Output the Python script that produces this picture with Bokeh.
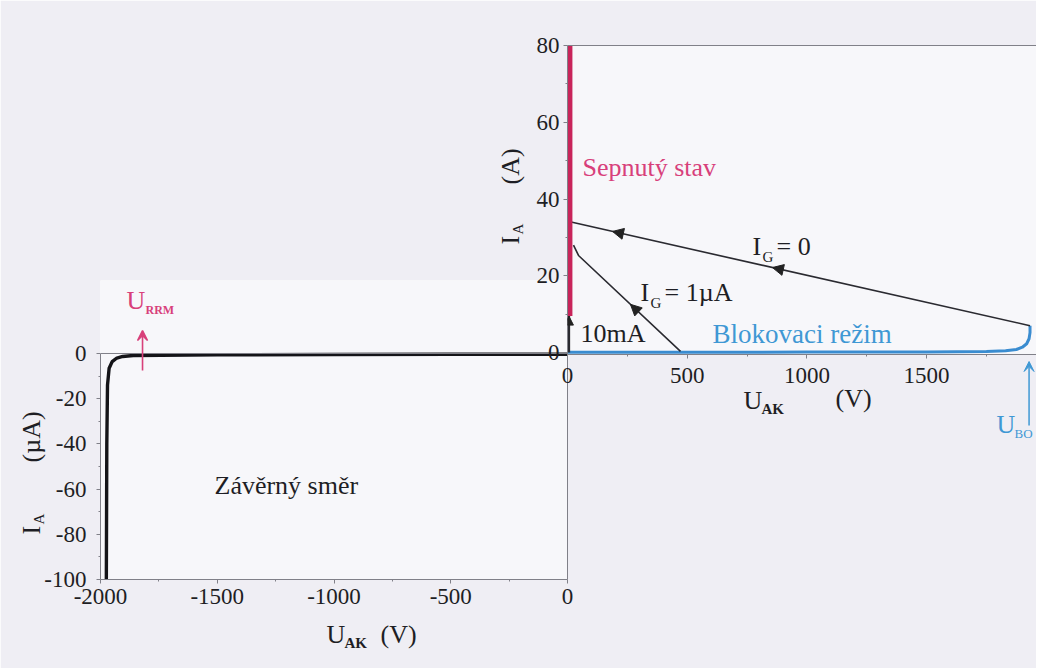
import math
import numpy as np
from bokeh.plotting import figure
from bokeh.layouts import column
from bokeh.models import (LinearAxis, FixedTicker, Range1d, Label, Arrow,
                          NormalHead, VeeHead, Span, GridBox, PrintfTickFormatter)
from bokeh.embed import file_html
from bokeh.resources import INLINE

# ---------------- data ----------------
# reverse direction (lower-left panel): U_AK [V], I_A [uA]
rev_u = [0, -500, -1000, -1500, -1860, -1905, -1930, -1950, -1963, -1970, -1973, -1975]
rev_i = [-0.3, -0.35, -0.45, -0.6, -0.9, -1.3, -2.0, -3.6, -6.5, -14, -40, -100]
lower_x_ticks = [-2000, -1500, -1000, -500, 0]
lower_x_minor = [-1750, -1250, -750, -250]
lower_y_ticks = [0, -20, -40, -60, -80, -100]
lower_y_minor = [-10, -30, -50, -70, -90]

# forward blocking (blue), U_AK [V], I_A [A]
blk_u = [0, 500, 1000, 1500, 1750, 1830, 1875, 1900, 1918, 1928, 1932, 1932]
blk_i = [0.1, 0.1, 0.12, 0.15, 0.25, 0.45, 0.8, 1.4, 2.3, 3.6, 5.2, 7.0]
# switching line I_G = 0
ig0_u = [15, 1932]
ig0_i = [34, 7.0]
ig0_arrow_u = [188, 856]
# switching line I_G = 1 uA
ig1_u = [472, 46, 25]
ig1_i = [0.3, 25.3, 28]
ig1_arrow_u = [263]
# on state
on_u = [8, 8]
on_i = [9.5, 80]
# 10 mA segment
ma_u = [6, 6]
ma_i = [0, 9.5]
upper_x_ticks = [0, 500, 1000, 1500]
upper_x_minor = [250, 750, 1250, 1750]
upper_y_ticks = [0, 20, 40, 60, 80]
upper_y_minor = [10, 30, 50, 70]

u_rrm = -1820
u_bo = 1928

# ---------------- styling ----------------
W, H = 1036, 668
FONT = "Liberation Serif"
TXT = "#1e1e24"
AXC = "#808088"
RED = "#c8245a"
PINK = "#d8407a"
BLUE = "#3f98d4"
BLUE_LINE = "#3a8cd0"
BORDER = "#efeef4"
BG = "#f7f7fa"
TICK = "23px"
BIG = "26px"
SUB = "15px"

# page-pixel geometry of the two panel frames
A_X0, A_X1, A_Y0, A_Y1 = 100, 567, 280, 579
A_XR, A_YR = (-2000, 0), (32.3, -100)
B_X0, B_X1, B_Y0, B_Y1 = 567, W, 45, 354
B_XR, B_YR = (0, (W - 567) / 0.2394), (80, -0.5)


def ax_(px):
    return A_XR[0] + (px - A_X0) * (A_XR[1] - A_XR[0]) / (A_X1 - A_X0)


def ay_(py):
    return A_YR[0] + (py - A_Y0) * (A_YR[1] - A_YR[0]) / (A_Y1 - A_Y0)


def bx_(px):
    return B_XR[0] + (px - B_X0) * (B_XR[1] - B_XR[0]) / (B_X1 - B_X0)


def by_(py):
    return B_YR[0] + (py - B_Y0) * (B_YR[1] - B_YR[0]) / (B_Y1 - B_Y0)


def b_px(u):
    return B_X0 + (u - B_XR[0]) * (B_X1 - B_X0) / (B_XR[1] - B_XR[0])


def style_axis(a, size=TICK):
    a.axis_line_color = AXC
    a.axis_line_width = 1
    a.major_tick_line_color = AXC
    a.minor_tick_line_color = AXC
    a.major_tick_in = 0
    a.major_tick_out = 4
    a.minor_tick_in = 0
    a.minor_tick_out = 2
    a.major_label_text_font = FONT
    a.major_label_text_font_size = size
    a.major_label_text_color = TXT
    a.formatter = PrintfTickFormatter(format="%d")


def lab(p, x, y, text, size=BIG, color=TXT, align="left", angle=0.0, style="normal"):
    p.add_layout(Label(x=x, y=y, text=text, text_font=FONT, text_font_size=size,
                       text_color=color, text_align=align, text_baseline="middle",
                       angle=angle, text_font_style=style))


def make_fig(xr, yr, x0, x1, y0, y1):
    return figure(frame_width=x1 - x0, frame_height=y1 - y0,
                  x_range=Range1d(*xr), y_range=Range1d(yr[1], yr[0]),
                  output_backend="svg", toolbar_location=None,
                  x_axis_type=None, y_axis_type=None,
                  min_border_left=x0, min_border_right=W - x1,
                  min_border_top=y0, min_border_bottom=H - y1)


# ---------------- panel A: reverse direction ----------------
pa = make_fig(A_XR, A_YR, A_X0, A_X1, A_Y0, A_Y1)
pa.outline_line_color = None
pa.border_fill_color = BORDER
pa.background_fill_color = BG

xa = LinearAxis(ticker=FixedTicker(ticks=lower_x_ticks, minor_ticks=lower_x_minor), bounds=(-2000, 0))
style_axis(xa)
xa.major_label_standoff = 5
pa.add_layout(xa, "below")
ya = LinearAxis(ticker=FixedTicker(ticks=lower_y_ticks, minor_ticks=lower_y_minor), bounds=(-100, 0))
style_axis(ya)
ya.major_label_standoff = 10
pa.add_layout(ya, "left")
ra = LinearAxis(ticker=FixedTicker(ticks=[]), bounds=(-100, 0))
style_axis(ra)
ra.major_label_text_font_size = "0px"
pa.add_layout(ra, "right")
pa.add_layout(Span(location=0, dimension="width", line_color=AXC, line_width=1))

pa.line(rev_u, rev_i, line_color="#141418", line_width=3.4)

pa.add_layout(Arrow(end=VeeHead(size=10, line_color=PINK, fill_color=PINK, line_width=1.5),
                    x_start=u_rrm, y_start=ay_(370), x_end=u_rrm, y_end=ay_(330),
                    line_color=PINK, line_width=1.6))
lab(pa, ax_(126), ay_(300), "U", color=PINK)
lab(pa, ax_(145), ay_(309), "RRM", size="12px", color=PINK, style="bold")
lab(pa, ax_(214), ay_(485), "Závěrný směr")

# ---------------- panel B: forward direction ----------------
pb = make_fig(B_XR, B_YR, B_X0, B_X1, B_Y0, B_Y1)
pb.outline_line_color = None
pb.border_fill_alpha = 0
pb.background_fill_color = BG

xb = LinearAxis(ticker=FixedTicker(ticks=upper_x_ticks, minor_ticks=upper_x_minor))
style_axis(xb)
xb.major_label_standoff = 9
pb.add_layout(xb, "below")
yb = LinearAxis(ticker=FixedTicker(ticks=upper_y_ticks, minor_ticks=upper_y_minor))
style_axis(yb)
yb.major_label_standoff = 4
pb.add_layout(yb, "left")
tb = LinearAxis(ticker=FixedTicker(ticks=[]))
style_axis(tb)
tb.major_label_text_font_size = "0px"
pb.add_layout(tb, "above")

pb.line(blk_u, blk_i, line_color=BLUE_LINE, line_width=3)
pb.line(ig0_u, ig0_i, line_color="#2a2a30", line_width=1.6)
pb.line(ig1_u, ig1_i, line_color="#2a2a30", line_width=1.6)
pb.line(ma_u, ma_i, line_color="#2a2a30", line_width=2.4)
pb.line(on_u, on_i, line_color=RED, line_width=6)

head = dict(size=11, line_color="#222", fill_color="#222")
for u in ig0_arrow_u:
    i_here = float(np.interp(u, ig0_u, ig0_i))
    i_back = float(np.interp(u + 60, ig0_u, ig0_i))
    pb.add_layout(Arrow(end=NormalHead(**head), x_start=u + 60, y_start=i_back,
                        x_end=u, y_end=i_here, line_alpha=0))
for u in ig1_arrow_u:
    i_here = float(np.interp(u, ig1_u[::-1], ig1_i[::-1]))
    i_back = float(np.interp(u + 40, ig1_u[::-1], ig1_i[::-1]))
    pb.add_layout(Arrow(end=NormalHead(**head), x_start=u + 40, y_start=i_back,
                        x_end=u, y_end=i_here, line_alpha=0))
pb.add_layout(Arrow(end=NormalHead(size=9, line_color="#222", fill_color="#222"),
                    x_start=ma_u[0], y_start=5, x_end=ma_u[0], y_end=9.5, line_alpha=0))

lab(pb, bx_(582), by_(167), "Sepnutý stav", color=PINK)
lab(pb, bx_(752), by_(246), "I")
lab(pb, bx_(762), by_(256), "G", size=SUB)
lab(pb, bx_(776), by_(246), "= 0")
lab(pb, bx_(640), by_(292), "I")
lab(pb, bx_(650), by_(302), "G", size=SUB)
lab(pb, bx_(664), by_(292), "= 1µA")
lab(pb, bx_(580), by_(333), "10mA")
lab(pb, bx_(712), by_(333), "Blokovaci režim", size="27px", color=BLUE)

# ---------------- overlay for texts and marks outside the frames ----------------
pc = figure(frame_width=W, frame_height=H, x_range=Range1d(0, W), y_range=Range1d(H, 0),
            output_backend="svg", toolbar_location=None, x_axis_type=None, y_axis_type=None,
            min_border=0)
pc.outline_line_color = None
pc.border_fill_alpha = 0
pc.background_fill_alpha = 0

# lower axis titles
lab(pc, 326, 634, "U")
lab(pc, 344, 642, "AK", size=SUB, style="bold")
lab(pc, 380, 634, "(V)")
lab(pc, 31, 534, "I", angle=math.pi / 2)
lab(pc, 38, 524, "A", size=SUB, angle=math.pi / 2)
lab(pc, 31, 462, "(µA)", angle=math.pi / 2)
# upper axis titles
lab(pc, 743, 400, "U")
lab(pc, 761, 408, "AK", size=SUB, style="bold")
lab(pc, 835, 398, "(V)")
lab(pc, 510, 244, "I", angle=math.pi / 2)
lab(pc, 517, 234, "A", size=SUB, angle=math.pi / 2)
lab(pc, 510, 184, "(A)", angle=math.pi / 2)
# breakover voltage marker
pc.add_layout(Arrow(end=VeeHead(size=10, line_color=BLUE, fill_color=BLUE),
                    x_start=b_px(u_bo), y_start=425, x_end=b_px(u_bo), y_end=361,
                    line_color=BLUE, line_width=1.5))
lab(pc, 996, 424, "U", color=BLUE)
lab(pc, 1014, 433, "BO", size="13px", color=BLUE)

layout = GridBox(children=[(column(pa), 0, 0), (column(pb), 0, 0), (column(pc), 0, 0)])

with open("out.html", "w") as f:
    f.write(file_html(layout, INLINE))
